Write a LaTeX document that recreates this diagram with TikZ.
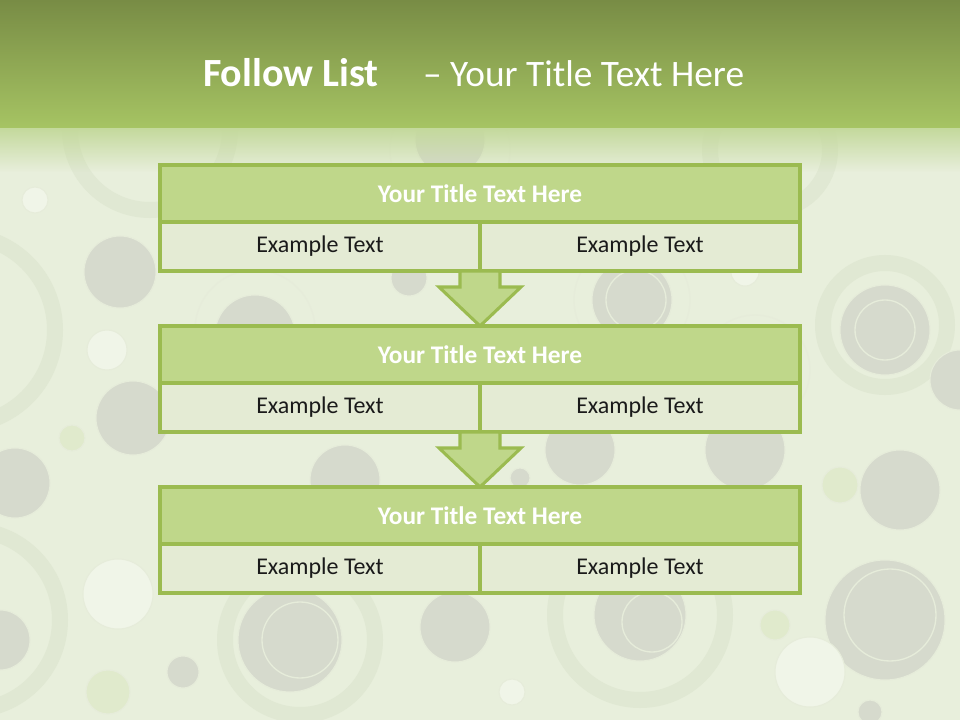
\documentclass[tikz,border=0pt]{standalone}
\usepackage{fontspec}
\setmainfont{Carlito}
\usetikzlibrary{calc,fadings}
\tikzfading[name=fadedown, top color=transparent!0, bottom color=transparent!100]
\definecolor{cbg}{HTML}{E8EFDC}
\definecolor{cgray}{HTML}{D6DACD}
\definecolor{cedge}{HTML}{E6ECDA}
\definecolor{clight}{HTML}{F0F5E8}
\definecolor{clgreen}{HTML}{E0EACC}
\definecolor{cring}{HTML}{E0E8D3}
\definecolor{cbandtop}{HTML}{788C45}
\definecolor{cbandbot}{HTML}{A6C463}
\definecolor{cfade}{HTML}{C4D99C}
\definecolor{ctitle}{HTML}{BFD78A}
\definecolor{cbody}{HTML}{E4EBD4}
\definecolor{cborder}{HTML}{9BBB50}
\definecolor{ctext}{HTML}{1A1A1A}
\begin{document}
\begin{tikzpicture}[x=0.75pt,y=-0.75pt,
  every node/.style={inner sep=0pt, outer sep=0pt},
  gc/.style={fill=cgray, draw=cedge, line width=0.8pt},
  lc/.style={fill=clight, draw=cedge, line width=0.8pt},
  gr/.style={fill=clgreen, draw=cedge, line width=0.8pt},
  rg/.style={draw=cring, line width=12pt},
  thinring/.style={draw=cedge, line width=1pt},
  ttl/.style={draw=cborder, fill=ctitle, line width=2.3pt, minimum width=480pt, minimum height=42.75pt, text=white, font=\fontsize{19}{22}\selectfont\bfseries, anchor=north west},
  cell/.style={draw=cborder, fill=cbody, line width=2.3pt, minimum width=240pt, minimum height=36.75pt, font=\fontsize{18}{21}\selectfont, text=ctext, anchor=north west},
  flow/.style={draw=cborder, fill=ctitle, line width=2.3pt, line join=miter}
]
\useasboundingbox (0,0) rectangle (960,720);
% background
\fill[cbg] (0,0) rectangle (960,720);
\begin{scope}
\clip (0,0) rectangle (960,720);
% rings
\draw[rg] (-40,330) circle (95);
\draw[rg] (885,325) circle (62);
\draw[rg] (640,615) circle (85);
\draw[rg] (150,130) circle (80);
\draw[rg] (770,150) circle (60);
\draw[rg] (-30,620) circle (90);
\draw[rg] (300,640) circle (75);
\draw[thinring] (450,150) circle (60);
\draw[thinring] (255,330) circle (60);
\draw[thinring] (632,300) circle (58);
\draw[thinring] (755,370) circle (55);
% gray circles
\foreach \cx/\cy/\r in {120/272/36, 133/418/37, 15/483/35, 183/672/16, 290/640/52, 0/640/30,
  455/627/35, 640/615/46, 885/620/60, 870/712/12, 409/278/18, 345/480/35, 520/478/10,
  580/450/35, 745/450/40, 900/490/40, 885/330/45, 632/300/40, 255/335/40, 960/380/30, 450/140/35}
  \draw[gc] (\cx,\cy) circle (\r);
% inner highlights
\foreach \cx/\cy/\r in {300/640/38, 652/622/30, 890/615/46, 885/330/30, 636/300/30}
  \draw[thinring] (\cx,\cy) circle (\r);
% light circles
\foreach \cx/\cy/\r in {107/350/20, 35/200/13, 118/594/35, 512/692/13, 810/672/35, 745/272/14}
  \draw[lc] (\cx,\cy) circle (\r);
% light green circles
\foreach \cx/\cy/\r in {72/438/13, 108/692/22, 775/625/15, 840/485/18}
  \draw[gr] (\cx,\cy) circle (\r);
\end{scope}
% title band
\shade[top color=cbandtop, bottom color=cbandbot] (0,0) rectangle (960,128);
\fill[cfade, path fading=fadedown] (0,128) rectangle (960,172);
\node[text=white, font=\fontsize{30}{34}\selectfont\bfseries, anchor=base west] (titleA) at (203,87) {Follow List};
\node[text=white, font=\fontsize{28}{34}\selectfont, anchor=base west] (titleB) at (423,87) {– Your Title Text Here};
% boxes
\foreach \i/\yy in {1/165,2/326,3/487}{
  \node[ttl] (t\i) at (160,\yy) {Your Title Text Here};
  \node[cell] (a\i) at (160,\yy+57) {Example Text};
  \node[cell] (b\i) at (480,\yy+57) {Example Text};
}
% arrows
\foreach \i/\j in {1/2,2/3}{
  \draw[flow] ($(a\i.south east)+(-20,0)$) -- ($(a\i.south east)+(20,0)$)
    -- ($(a\i.south east)+(20,16)$) -- ($(a\i.south east)+(41,16)$)
    -- (t\j.north) -- ($(a\i.south east)+(-41,16)$)
    -- ($(a\i.south east)+(-20,16)$) -- cycle;
}
\end{tikzpicture}
\end{document}
